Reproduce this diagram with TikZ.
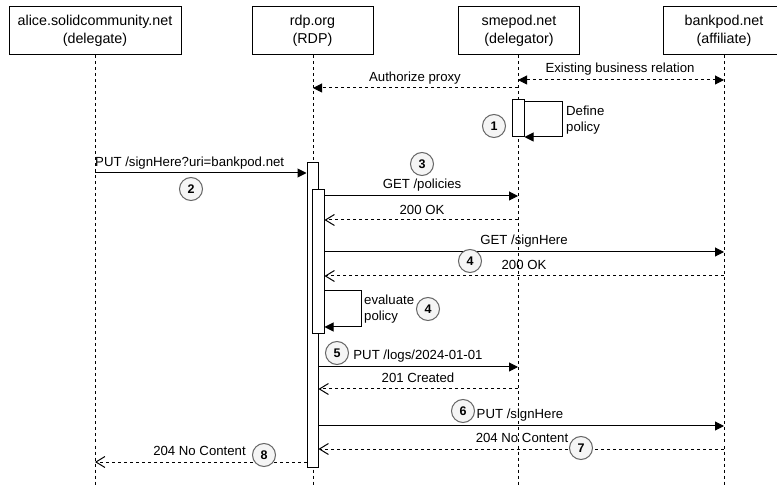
\documentclass[tikz,border=0pt]{standalone}
\usepackage{fontspec}
\setmainfont{Liberation Sans}
\usetikzlibrary{arrows.meta}
\definecolor{badgefill}{HTML}{F5F5F5}
\definecolor{badgeline}{HTML}{666666}
\begin{document}
\begin{tikzpicture}[x=1pt,y=-1pt,
  font=\fontsize{13.2}{16}\selectfont,
  every node/.style={inner sep=0pt},
  tipF/.tip={Triangle[length=9pt,width=9pt]},
  tipO/.tip={Straight Barb[length=9pt,width=11pt]},
  party/.style={draw, line width=1pt, minimum height=48pt, align=center, font=\fontsize{14.3}{17.5}\selectfont},
  life/.style={line width=0.9pt, dash pattern=on 3pt off 3pt},
  actbox/.style={draw, fill=white, line width=1pt},
  call/.style={line width=1pt, -tipF},
  dashcall/.style={line width=1pt, dash pattern=on 3pt off 3pt, -tipF},
  reply/.style={line width=1pt, dash pattern=on 3pt off 3pt, -tipO},
  badge/.style={circle, draw=badgeline, fill=badgefill, line width=1pt, minimum size=23pt, font=\bfseries\fontsize{12.5}{12.5}\selectfont},
]
\clip (0,0) rectangle (777,486);
\fill[white] (0,0) rectangle (777,486);

% participants
\node[party, minimum width=172pt] (alice) at (95,31) {alice.solidcommunity.net\\(delegate)};
\node[party, minimum width=121pt] (rdp) at (312.5,31) {rdp.org\\(RDP)};
\node[party, minimum width=121pt] (sme) at (519,31) {smepod.net\\(delegator)};
\node[party, minimum width=121pt] (bank) at (724,31) {bankpod.net\\(affiliate)};

\coordinate (La) at (95,0);
\coordinate (Lr) at (313,0);
\coordinate (Ls) at (518,0);
\coordinate (Lb) at (724,0);

% lifelines
\draw[life] (La |- alice.south) -- (La |- 0,486);
\draw[life] (Lr |- rdp.south) -- (Lr |- 0,486);
\draw[life] (Ls |- sme.south) -- (Ls |- 0,486);
\draw[life] (Lb |- bank.south) -- (Lb |- 0,486);

% activations
\node[actbox, minimum width=12pt, minimum height=37pt] (a1) at (518,118.5) {};
\node[actbox, minimum width=11pt, minimum height=304pt] (ro) at (312.5,315) {};
\node[actbox, minimum width=12pt, minimum height=144pt] (ri) at (318,262) {};

% messages
\draw[dashcall] (Ls |- 0,88) -- (Lr |- 0,88);
\node at (415,78) {Authorize proxy};

\draw[dashcall, tipF-tipF] (Ls |- 0,80) -- (Lb |- 0,80);
\node at (620,69) {Existing business relation};

\draw[call] (a1.east |- 0,102) -- (562,102) -- (562,137) -- (a1.east |- 0,137);
\node[anchor=west, align=left] at (566,120) {Define\\policy};

\draw[call] (La |- 0,173) -- (ro.west |- 0,173);
\node[anchor=west] at (95,163) {PUT /signHere?uri=bankpod.net};

\draw[call] (ri.east |- 0,196) -- (Ls |- 0,196);
\node at (422,185) {GET /policies};
\draw[reply] (Ls |- 0,220) -- (ri.east |- 0,220);
\node at (422,210) {200 OK};

\draw[call] (ri.east |- 0,252) -- (Lb |- 0,252);
\node at (524,241) {GET /signHere};
\draw[reply] (Lb |- 0,276) -- (ri.east |- 0,276);
\node at (524,265) {200 OK};

\draw[call] (ri.east |- 0,291) -- (361,291) -- (361,327) -- (ri.east |- 0,327);
\node[anchor=west, align=left] at (364,309) {evaluate\\policy};

\draw[call] (ro.east |- 0,367) -- (Ls |- 0,367);
\node at (418,356) {PUT /logs/2024-01-01};
\draw[reply] (Ls |- 0,389) -- (ro.east |- 0,389);
\node at (418,378) {201 Created};

\draw[call] (ro.east |- 0,426) -- (Lb |- 0,426);
\node at (520,415) {PUT /signHere};
\draw[reply] (Lb |- 0,449) -- (ro.east |- 0,449);
\node at (522,438) {204 No Content};

\draw[reply] (ro.west |- 0,462) -- (La |- 0,462);
\node at (199.5,451) {204 No Content};

% step badges
\node[badge] (b1) at (494,126) {1};
\node[badge] (b2) at (191,189) {2};
\node[badge] (b3) at (422,164) {3};
\node[badge] (b4a) at (470,261) {4};
\node[badge] (b4b) at (428,309) {4};
\node[badge] (b5) at (337,353) {5};
\node[badge] (b6) at (463,411) {6};
\node[badge] (b7) at (581,448) {7};
\node[badge] (b8) at (264,455) {8};
\end{tikzpicture}
\end{document}
